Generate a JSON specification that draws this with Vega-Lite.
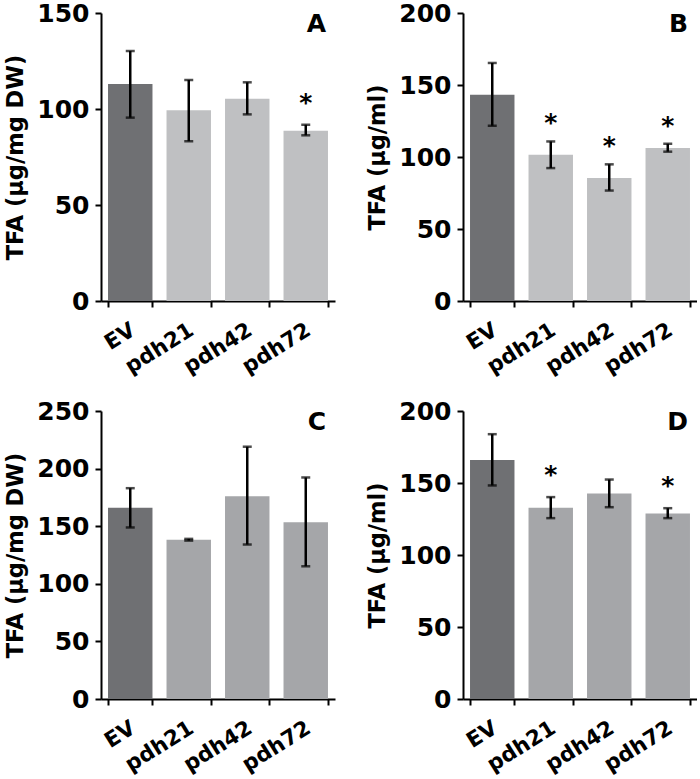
{
  "$schema": "https://vega.github.io/schema/vega-lite/v6.json",
  "padding": {"left": 4, "top": 1, "right": 0, "bottom": 0},
  "background": "white",
  "bounds": "flush",
  "columns": 2,
  "spacing": {"row": 110, "column": 128},
  "datasets": {
    "A": [
      {"line": "EV", "mean": 113, "lo": 95.5, "hi": 130.2, "sig": ""},
      {"line": "pdh21", "mean": 99.3, "lo": 83.2, "hi": 115.1, "sig": ""},
      {"line": "pdh42", "mean": 105.4, "lo": 97.2, "hi": 113.9, "sig": ""},
      {"line": "pdh72", "mean": 88.7, "lo": 86.3, "hi": 91.8, "sig": "*"}
    ],
    "B": [
      {"line": "EV", "mean": 143.2, "lo": 121.7, "hi": 165.3, "sig": ""},
      {"line": "pdh21", "mean": 101.6, "lo": 92.3, "hi": 110.8, "sig": "*"},
      {"line": "pdh42", "mean": 85.4, "lo": 76.7, "hi": 94.9, "sig": "*"},
      {"line": "pdh72", "mean": 106.2, "lo": 103.7, "hi": 109.2, "sig": "*"}
    ],
    "C": [
      {"line": "EV", "mean": 166, "lo": 148.9, "hi": 183, "sig": ""},
      {"line": "pdh21", "mean": 138.2, "lo": 137.5, "hi": 139, "sig": ""},
      {"line": "pdh42", "mean": 176, "lo": 134.1, "hi": 219, "sig": ""},
      {"line": "pdh72", "mean": 153.5, "lo": 115.2, "hi": 192.3, "sig": ""}
    ],
    "D": [
      {"line": "EV", "mean": 165.9, "lo": 148.3, "hi": 183.9, "sig": ""},
      {"line": "pdh21", "mean": 132.8, "lo": 125.6, "hi": 140.2, "sig": "*"},
      {"line": "pdh42", "mean": 142.7, "lo": 133.2, "hi": 152.4, "sig": ""},
      {"line": "pdh72", "mean": 128.8, "lo": 125.6, "hi": 132.5, "sig": "*"}
    ]
  },
  "concat": [
    {
      "width": 234, "height": 288,
      "title": {"text": "A"},
      "data": {"name": "A"},
      "encoding": {"x": {"field": "line", "type": "nominal", "sort": null, "scale": {"paddingInner": 0.24, "paddingOuter": 0.12}, "axis": {"title": null}}},
      "layer": [
        {"mark": {"type": "bar"}, "encoding": {"y": {"field": "mean", "type": "quantitative", "scale": {"domain": [0, 150], "nice": false}, "axis": {"title": "TFA (µg/mg DW)", "values": [0, 50, 100, 150]}}, "color": {"condition": {"test": "datum.line === 'EV'", "value": "#6f7073"}, "value": "#bfc0c2"}}},
        {"mark": {"type": "rule", "strokeWidth": 2.5, "color": "black"}, "encoding": {"y": {"field": "lo", "type": "quantitative"}, "y2": {"field": "hi"}}},
        {"mark": {"type": "tick", "thickness": 2.5, "size": 9, "color": "black"}, "encoding": {"y": {"field": "lo", "type": "quantitative"}}},
        {"mark": {"type": "tick", "thickness": 2.5, "size": 9, "color": "black"}, "encoding": {"y": {"field": "hi", "type": "quantitative"}}},
        {"mark": {"type": "text", "fontSize": 25, "fontWeight": "bold", "font": "DejaVu Sans", "dy": -22, "color": "black"}, "encoding": {"y": {"field": "hi", "type": "quantitative"}, "text": {"field": "sig"}}}
      ]
    },
    {
      "width": 234, "height": 288,
      "title": {"text": "B"},
      "data": {"name": "B"},
      "encoding": {"x": {"field": "line", "type": "nominal", "sort": null, "scale": {"paddingInner": 0.24, "paddingOuter": 0.12}, "axis": {"title": null}}},
      "layer": [
        {"mark": {"type": "bar"}, "encoding": {"y": {"field": "mean", "type": "quantitative", "scale": {"domain": [0, 200], "nice": false}, "axis": {"title": "TFA (µg/ml)", "values": [0, 50, 100, 150, 200]}}, "color": {"condition": {"test": "datum.line === 'EV'", "value": "#6f7073"}, "value": "#bfc0c2"}}},
        {"mark": {"type": "rule", "strokeWidth": 2.5, "color": "black"}, "encoding": {"y": {"field": "lo", "type": "quantitative"}, "y2": {"field": "hi"}}},
        {"mark": {"type": "tick", "thickness": 2.5, "size": 9, "color": "black"}, "encoding": {"y": {"field": "lo", "type": "quantitative"}}},
        {"mark": {"type": "tick", "thickness": 2.5, "size": 9, "color": "black"}, "encoding": {"y": {"field": "hi", "type": "quantitative"}}},
        {"mark": {"type": "text", "fontSize": 25, "fontWeight": "bold", "font": "DejaVu Sans", "dy": -18, "color": "black"}, "encoding": {"y": {"field": "hi", "type": "quantitative"}, "text": {"field": "sig"}}}
      ]
    },
    {
      "width": 234, "height": 288,
      "title": {"text": "C"},
      "data": {"name": "C"},
      "encoding": {"x": {"field": "line", "type": "nominal", "sort": null, "scale": {"paddingInner": 0.24, "paddingOuter": 0.12}, "axis": {"title": null}}},
      "layer": [
        {"mark": {"type": "bar"}, "encoding": {"y": {"field": "mean", "type": "quantitative", "scale": {"domain": [0, 250], "nice": false}, "axis": {"title": "TFA (µg/mg DW)", "values": [0, 50, 100, 150, 200, 250]}}, "color": {"condition": {"test": "datum.line === 'EV'", "value": "#6f7073"}, "value": "#a5a6a9"}}},
        {"mark": {"type": "rule", "strokeWidth": 2.5, "color": "black"}, "encoding": {"y": {"field": "lo", "type": "quantitative"}, "y2": {"field": "hi"}}},
        {"mark": {"type": "tick", "thickness": 2.5, "size": 9, "color": "black"}, "encoding": {"y": {"field": "lo", "type": "quantitative"}}},
        {"mark": {"type": "tick", "thickness": 2.5, "size": 9, "color": "black"}, "encoding": {"y": {"field": "hi", "type": "quantitative"}}}
      ]
    },
    {
      "width": 234, "height": 288,
      "title": {"text": "D"},
      "data": {"name": "D"},
      "encoding": {"x": {"field": "line", "type": "nominal", "sort": null, "scale": {"paddingInner": 0.24, "paddingOuter": 0.12}, "axis": {"title": null}}},
      "layer": [
        {"mark": {"type": "bar"}, "encoding": {"y": {"field": "mean", "type": "quantitative", "scale": {"domain": [0, 200], "nice": false}, "axis": {"title": "TFA (µg/ml)", "values": [0, 50, 100, 150, 200]}}, "color": {"condition": {"test": "datum.line === 'EV'", "value": "#6f7073"}, "value": "#a5a6a9"}}},
        {"mark": {"type": "rule", "strokeWidth": 2.5, "color": "black"}, "encoding": {"y": {"field": "lo", "type": "quantitative"}, "y2": {"field": "hi"}}},
        {"mark": {"type": "tick", "thickness": 2.5, "size": 9, "color": "black"}, "encoding": {"y": {"field": "lo", "type": "quantitative"}}},
        {"mark": {"type": "tick", "thickness": 2.5, "size": 9, "color": "black"}, "encoding": {"y": {"field": "hi", "type": "quantitative"}}},
        {"mark": {"type": "text", "fontSize": 25, "fontWeight": "bold", "font": "DejaVu Sans", "dy": -22, "color": "black"}, "encoding": {"y": {"field": "hi", "type": "quantitative"}, "text": {"field": "sig"}}}
      ]
    }
  ],
  "config": {
    "view": {"stroke": null},
    "font": "DejaVu Sans",
    "axis": {"domainColor": "black", "domainWidth": 2, "tickColor": "black", "tickWidth": 2, "tickSize": 6, "labelColor": "black", "titleColor": "black", "labelFont": "DejaVu Sans", "titleFont": "DejaVu Sans", "labelFontWeight": "bold", "titleFontWeight": "bold", "grid": false},
    "axisY": {"labelFontSize": 25, "titleFontSize": 22.5, "labelPadding": 6, "titlePadding": 9},
    "axisX": {"labelFontSize": 21.5, "labelAngle": -32, "labelAlign": "right", "labelBaseline": "top", "labelPadding": 12, "labelOffset": -3, "tickBand": "extent"},
    "title": {"anchor": "end", "frame": "group", "fontSize": 25, "font": "DejaVu Sans", "fontWeight": "bold", "color": "black", "offset": -36, "dx": -9}
  }
}
